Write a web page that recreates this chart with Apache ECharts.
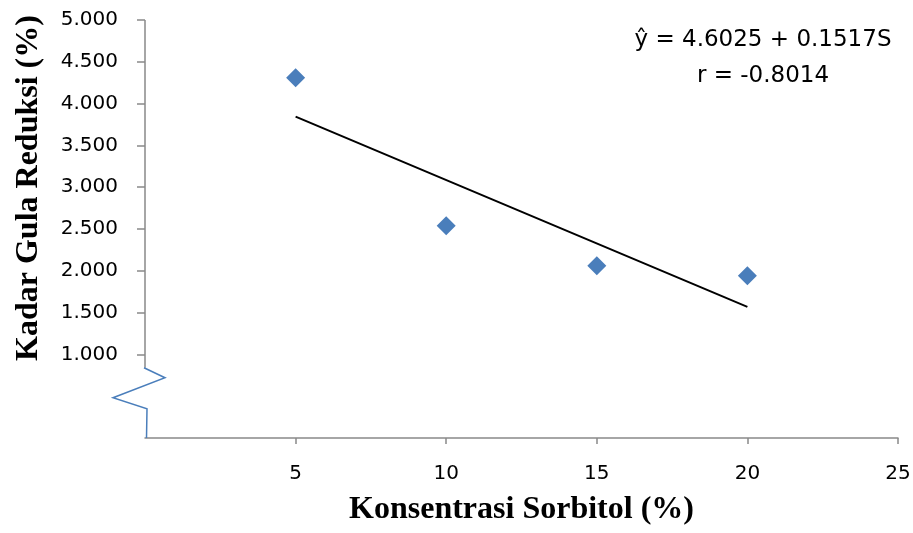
<!DOCTYPE html>
<html>
<head>
<meta charset="utf-8">
<script src="https://cdn.jsdelivr.net/npm/echarts@6/dist/echarts.min.js"></script>
<style>
  html, body { margin: 0; padding: 0; background: #ffffff; }
  #chart { width: 913px; height: 533px; }
</style>
</head>
<body>
<div id="chart"></div>
<script>
// Sorbitol concentration (%) and measured reducing sugar content (%)
const sorbitol = [5, 10, 15, 20];
const reducingSugar = [4.31, 2.54, 2.06, 1.94];

// Regression line coefficients and correlation as printed on the chart
const intercept = 4.6025;
const slope = -0.1517;
const trendRange = [5, 20];
const equationLines = ['\u0177 = 4.6025 + 0.1517S', 'r = -0.8014'];

// Axis ticks
const xTicks = [5, 10, 15, 20, 25];
const yTicks = [1, 1.5, 2, 2.5, 3, 3.5, 4, 4.5, 5];

const axisGrey = '#898989';
const markerBlue = '#4a7ebb';

const points = sorbitol.map((x, i) => [x, reducingSugar[i]]);
const trend = trendRange.map(x => [x, intercept + slope * x]);

const chart = echarts.init(document.getElementById('chart'), null, { renderer: 'canvas' });

chart.setOption({
  animation: false,
  backgroundColor: '#ffffff',
  grid: { left: 145, right: 15, top: 20, bottom: 95, containLabel: false, outerBoundsMode: 'none' },
  xAxis: {
    type: 'value',
    min: 0, max: 25, interval: 5,
    name: 'Konsentrasi Sorbitol (%)',
    nameLocation: 'middle',
    nameGap: 56,
    nameTextStyle: { fontFamily: 'Liberation Serif', fontWeight: 'bold', fontSize: 32, color: '#000' },
    axisLine: { show: true, lineStyle: { color: axisGrey, width: 1.5 } },
    axisTick: { show: true, inside: false, length: 6, customValues: xTicks, lineStyle: { color: axisGrey, width: 1.5 } },
    axisLabel: { customValues: xTicks, margin: 26, fontFamily: 'DejaVu Sans', fontSize: 20, color: '#000' },
    splitLine: { show: false }
  },
  yAxis: {
    type: 'value',
    min: 0, max: 5, interval: 0.5,
    name: 'Kadar Gula Reduksi (%)',
    nameLocation: 'middle',
    nameGap: 100,
    nameRotate: 90,
    nameTextStyle: {
      fontFamily: 'Liberation Serif', fontWeight: 'bold', fontSize: 32, color: '#000',
      padding: [0, 0, 0, 82]
    },
    axisLine: { show: false },
    axisTick: { show: true, inside: false, length: 8, customValues: yTicks, lineStyle: { color: axisGrey, width: 1.5 } },
    axisLabel: {
      customValues: yTicks, margin: 27,
      fontFamily: 'DejaVu Sans', fontSize: 20, color: '#000',
      formatter: v => v.toFixed(3)
    },
    splitLine: { show: false }
  },
  series: [
    {
      type: 'line',
      data: trend,
      showSymbol: false,
      lineStyle: { color: '#000', width: 2 },
      z: 2
    },
    {
      type: 'scatter',
      data: points,
      symbol: 'diamond',
      symbolSize: 19,
      itemStyle: { color: markerBlue, opacity: 1 },
      z: 3
    }
  ]
});

// Vertical axis line with a break mark below the lowest labelled tick,
// plus the regression equation in the upper right
function drawAxisDecorations() {
  const top = chart.convertToPixel({ gridIndex: 0 }, [0, 5]);
  const origin = chart.convertToPixel({ gridIndex: 0 }, [0, 0]);
  const ax = top[0];
  const lineEnd = top[1] + (origin[1] - top[1]) * 0.832;
  chart.setOption({
    graphic: [
      {
        type: 'line',
        shape: { x1: ax, y1: top[1], x2: ax, y2: lineEnd },
        style: { stroke: axisGrey, lineWidth: 1.5 },
        z: 10
      },
      {
        type: 'polyline',
        shape: {
          points: [
            [ax - 1, lineEnd],
            [ax + 20, lineEnd + 10],
            [ax - 32, lineEnd + 30],
            [ax + 2, lineEnd + 41],
            [ax + 1.5, origin[1]]
          ]
        },
        style: { stroke: markerBlue, lineWidth: 1.5, fill: null },
        z: 10
      },
      {
        type: 'text',
        x: 763,
        y: 22,
        style: {
          text: equationLines.join('\n'),
          fontFamily: 'DejaVu Sans',
          fontSize: 23,
          lineHeight: 36,
          fill: '#000',
          align: 'center',
          textAlign: 'center'
        },
        z: 10
      }
    ]
  });
}
drawAxisDecorations();
</script>
</body>
</html>
